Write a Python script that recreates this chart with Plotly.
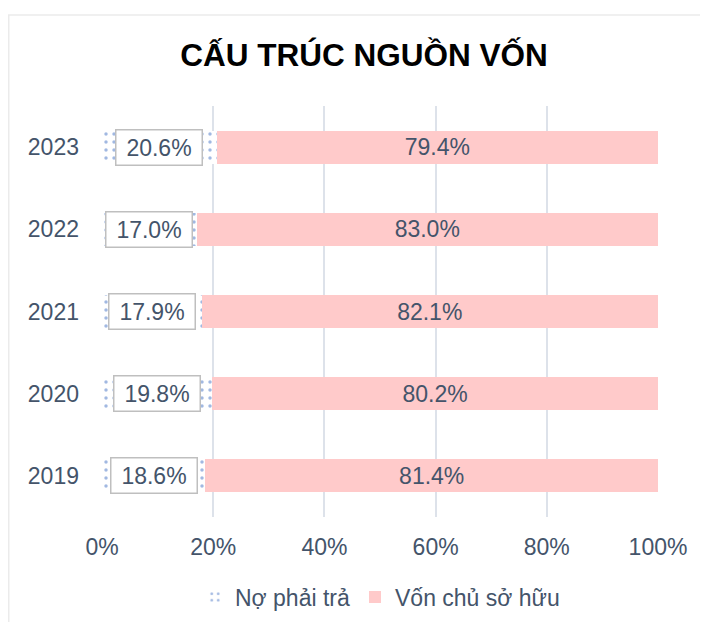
import plotly.graph_objects as go

years = ["2019", "2020", "2021", "2022", "2023"]
no_phai_tra = [18.6, 19.8, 17.9, 17.0, 20.6]
von_chu_so_huu = [81.4, 80.2, 82.1, 83.0, 79.4]
x_ticks = [0, 20, 40, 60, 80, 100]
x_tick_labels = ["0%", "20%", "40%", "60%", "80%", "100%"]

FONT = "Liberation Sans, Arial, sans-serif"
TXT = "#44546A"

# figure sits at (8, 8) inside the page (default body margin)
W, H = 700, 614
L, R, T, B = 94, 50, 98, 105
PW, PH = W - L - R, H - T - B

fig = go.Figure()
fig.add_trace(go.Bar(
    y=years, x=no_phai_tra, orientation="h", name="Nợ phải trả",
    marker=dict(color="white", line=dict(width=0),
                pattern=dict(shape=".", fgcolor="#4472C4", bgcolor="white", size=8, solidity=0.15)),
))
fig.add_trace(go.Bar(
    y=years, x=von_chu_so_huu, orientation="h", name="Vốn chủ sở hữu",
    marker=dict(color="#FFCACA", line=dict(width=0)),
    text=[f"{v:.1f}%" for v in von_chu_so_huu], textposition="inside",
    insidetextanchor="middle", textfont=dict(family=FONT, size=23, color=TXT),
))

for i, v in enumerate(no_phai_tra):
    fig.add_annotation(x=v / 2, y=i, xref="x", yref="y", text=f"{v:.1f}%", showarrow=False,
                       font=dict(family=FONT, size=23, color=TXT),
                       width=80, height=29, align="center",
                       bgcolor="white", bordercolor="#BFBFBF", borderwidth=1.5, borderpad=2.5)

fig.add_shape(type="rect", xref="paper", yref="paper",
              x0=(0.75 - L) / PW, x1=(W + 20 - L) / PW,
              y0=(H - B - H - 20) / PH, y1=(H - B - 7) / PH,
              line=dict(color="#EBEBEB", width=1.5), fillcolor="rgba(0,0,0,0)", layer="below")

fig.update_layout(
    width=W, height=H,
    barmode="stack", bargap=0.6,
    paper_bgcolor="white", plot_bgcolor="white",
    margin=dict(l=L, r=R, t=T, b=B, autoexpand=False),
    title=dict(text="<b>CẤU TRÚC NGUỒN VỐN</b>", x=356 / W, xanchor="center",
               y=1 - 47 / H, yanchor="middle",
               font=dict(family=FONT, size=31.5, color="black")),
    xaxis=dict(range=[0, 100], tickvals=x_ticks, ticktext=x_tick_labels, automargin=False,
               showgrid=True, gridcolor="#DDE2EA", gridwidth=1.5, zeroline=False,
               tickfont=dict(family=FONT, size=23, color=TXT), ticks="", ticklabelstandoff=14),
    yaxis=dict(type="category", categoryorder="array", categoryarray=years, showgrid=False,
               range=[-0.5, 4.5], automargin=False,
               tickfont=dict(family=FONT, size=23, color=TXT), ticks="", ticklabelstandoff=22),
    legend=dict(orientation="h", x=0.5, xanchor="center", y=(H - B - 589) / PH,
                yanchor="middle", traceorder="normal",
                font=dict(family=FONT, size=23, color=TXT), itemwidth=30),
    showlegend=True,
)

fig.write_html("out.html")
